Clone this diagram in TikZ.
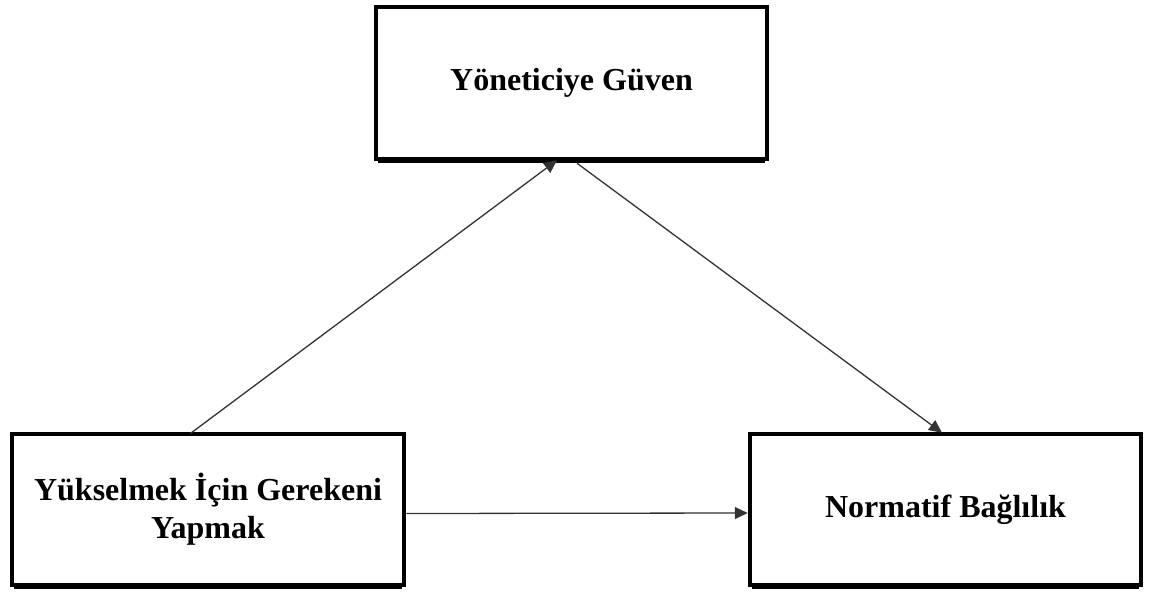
\documentclass[tikz,border=0pt]{standalone}
\usepackage{fontspec}
\setmainfont{Liberation Serif}
\usetikzlibrary{arrows.meta,calc}
\begin{document}
\begin{tikzpicture}[x=1pt,y=-1pt,
  box/.style={draw=black,line width=4.5pt,rectangle,align=center,inner sep=0pt,
    font=\fontsize{32}{38}\selectfont\bfseries},
  conn/.style={draw=black!80,line width=1.3pt,-{Triangle[length=13pt,width=12pt]}}]
\useasboundingbox (0,0) rectangle (1158,594);
\node[box,minimum width=391pt,minimum height=152pt] (T) at (571.5,83) {Yöneticiye Güven};
\node[box,minimum width=392pt,minimum height=151pt] (L) at (208,509.5) {Yükselmek İçin Gerekeni\\Yapmak};
\node[box,minimum width=391pt,minimum height=151pt] (R) at (945.5,509.5) {Normatif Bağlılık};
% bottom shadows
\foreach \n in {T,L,R}{
  \draw[line width=3pt] ([xshift=4pt,yshift=-0.5pt]\n.south west) -- ([xshift=-4pt,yshift=-0.5pt]\n.south east);
}
\coordinate (a1) at ([xshift=-18pt,yshift=-2pt]L.north);
\coordinate (a2) at ([xshift=-14.5pt,yshift=1pt]T.south);
\coordinate (b1) at ([xshift=5.5pt,yshift=-2pt]T.south);
\coordinate (b2) at ([xshift=-3.5pt,yshift=-1pt]R.north);
\coordinate (c1) at ([yshift=-4pt]L.east);
\coordinate (c2) at ([yshift=-3.5pt,xshift=0pt]R.west);
\draw[conn] (a1) -- (a2);
\draw[conn] (b1) -- (b2);
\draw[conn] (c1) -- (c2);
\end{tikzpicture}
\end{document}
